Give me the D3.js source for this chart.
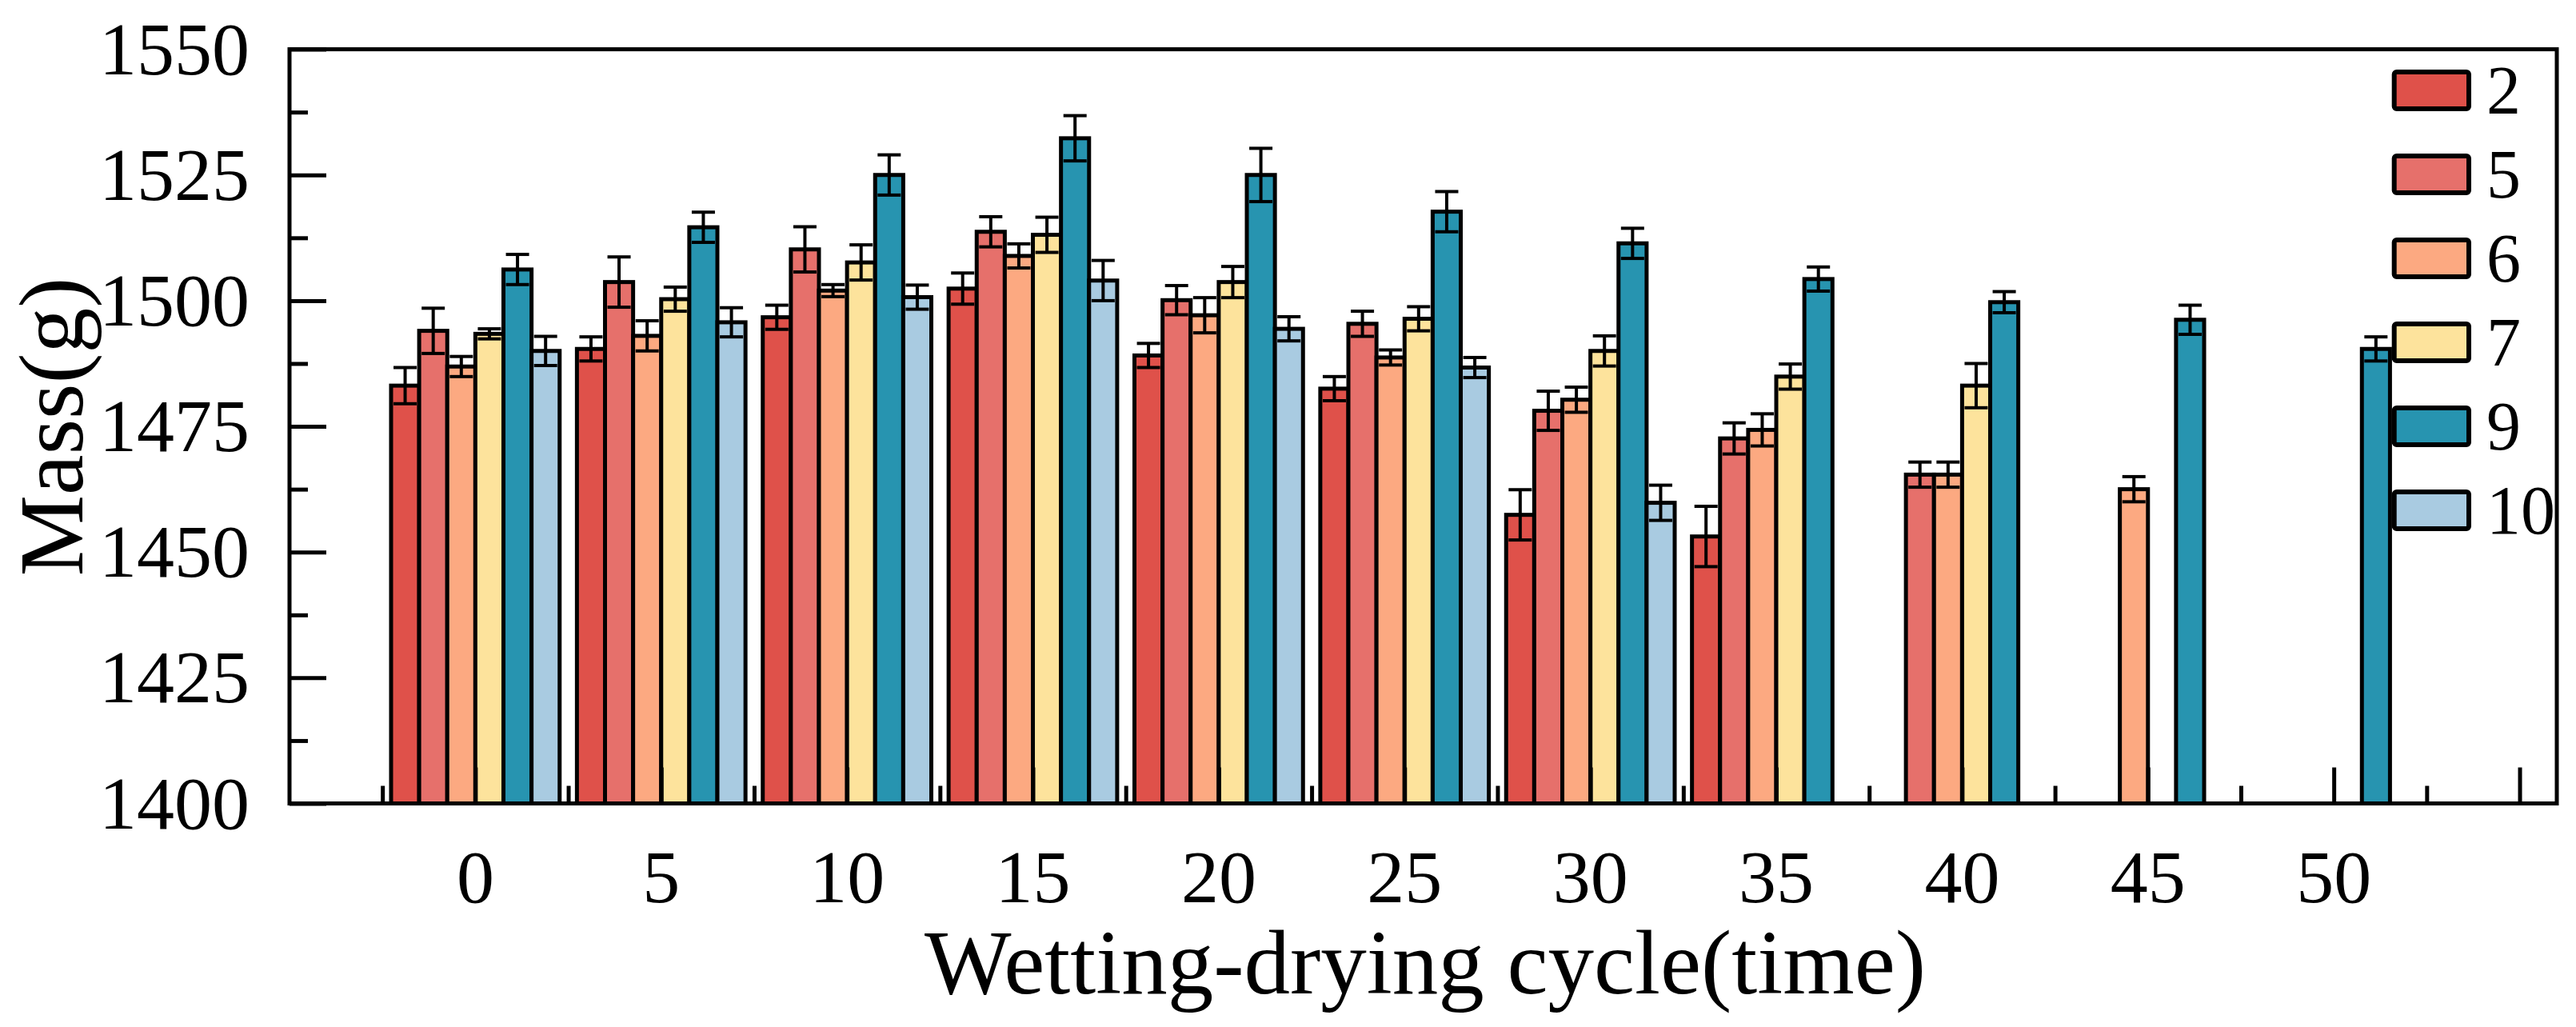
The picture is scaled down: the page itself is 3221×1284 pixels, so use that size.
<!DOCTYPE html>
<html>
<head>
<meta charset="utf-8">
<script src="https://cdn.jsdelivr.net/npm/d3@7"></script>
<style>
  html, body { margin: 0; padding: 0; background: #fff; }
  svg { display: block; }
  text { font-family: "Liberation Serif", "Times New Roman", serif; fill: #000; }
</style>
</head>
<body>
<svg id="chart" width="3221" height="1284"></svg>
<script>
// ---------------- data ----------------
const cycles = [0, 5, 10, 15, 20, 25, 30, 35, 40, 45, 50];
const seriesNames = ["2", "5", "6", "7", "9", "10"];
const seriesColors = ["#DF514A", "#E6706B", "#FCA981", "#FDE39C", "#2794B0", "#A9CBE1"];

const mass2  = [1483.1, 1490.4, 1496.7, 1502.4, 1489.1, 1482.5, 1457.4, 1453.1, null, null, null];
const err2   = [3.6, 2.4, 2.4, 3.1, 2.4, 2.4, 5.0, 6.0, null, null, null];
const mass5  = [1494.0, 1503.7, 1510.2, 1513.7, 1500.1, 1495.4, 1478.1, 1472.6, 1465.4, null, null];
const err5   = [4.5, 5.0, 4.5, 3.0, 2.9, 2.5, 3.9, 3.1, 2.5, null, null];
const mass6  = [1486.9, 1493.0, 1502.0, 1508.9, 1497.1, 1488.7, 1480.3, 1474.3, 1465.4, 1462.5, null];
const err6   = [2.0, 3.0, 1.2, 2.4, 3.5, 1.5, 2.5, 3.2, 2.5, 2.5, null];
const mass7  = [1493.4, 1500.3, 1507.6, 1513.1, 1503.7, 1496.4, 1490.0, 1484.9, 1483.1, null, null];
const err7   = [1.0, 2.4, 3.5, 3.5, 3.1, 2.4, 3.0, 2.5, 4.4, null, null];
const mass9  = [1506.2, 1514.6, 1525.0, 1532.3, 1525.0, 1517.7, 1511.4, 1504.3, 1499.7, 1496.2, 1490.4];
const err9   = [3.0, 3.0, 4.0, 4.5, 5.3, 4.0, 3.0, 2.4, 2.1, 2.9, 2.4];
const mass10 = [1490.0, 1495.7, 1500.7, 1504.0, 1494.4, 1486.7, 1459.8, null, null, null, null];
const err10  = [2.9, 2.9, 2.4, 4.0, 2.4, 2.0, 3.5, null, null, null, null];

const yTicks = [1400, 1425, 1450, 1475, 1500, 1525, 1550];
const xTicks = cycles;
const xTitle = "Wetting-drying cycle(time)";
const yTitle = "Mass(g)";

const massSeries = [mass2, mass5, mass6, mass7, mass9, mass10];
const errSeries  = [err2, err5, err6, err7, err9, err10];

// ---------------- layout ----------------
const L = 362, R = 3197, T = 61.6, B = 1004.5;
const svg = d3.select("#chart");

const x = d3.scaleLinear().domain([-5, 56]).range([L, R]);
const y = d3.scaleLinear().domain([1400, 1550]).range([B, T]);

const groupW = (x(5) - x(0)) * 0.907;
const inner = d3.scaleBand().domain(seriesNames).range([-groupW / 2, groupW / 2]).padding(0);

// records
const records = [];
seriesNames.forEach((s, j) => {
  cycles.forEach((c, i) => {
    const v = massSeries[j][i];
    if (v !== null) records.push({ s, j, c, v, e: errSeries[j][i] });
  });
});

const gBars = svg.append("g");
gBars.selectAll("rect").data(records).enter().append("rect")
  .attr("x", d => x(d.c) + inner(d.s))
  .attr("width", inner.bandwidth())
  .attr("y", d => y(d.v))
  .attr("height", d => y(1400) - y(d.v))
  .attr("fill", d => seriesColors[d.j])
  .attr("stroke", "#000")
  .attr("stroke-width", 5);

// error bars
const capW = 29;
const gErr = svg.append("g").attr("stroke", "#000").attr("stroke-width", 4);
records.forEach(d => {
  const cx = x(d.c) + inner(d.s) + inner.bandwidth() / 2;
  gErr.append("line").attr("x1", cx).attr("x2", cx).attr("y1", y(d.v + d.e)).attr("y2", y(d.v - d.e));
  gErr.append("line").attr("x1", cx - capW / 2).attr("x2", cx + capW / 2).attr("y1", y(d.v + d.e)).attr("y2", y(d.v + d.e));
  gErr.append("line").attr("x1", cx - capW / 2).attr("x2", cx + capW / 2).attr("y1", y(d.v - d.e)).attr("y2", y(d.v - d.e));
});

// ---------------- axes ----------------
const yAxis = d3.axisRight(y).tickValues(yTicks).tickSize(46).tickFormat("");
const gy = svg.append("g").attr("transform", `translate(${L},0)`).call(yAxis);
gy.select(".domain").remove();
gy.selectAll("line").attr("stroke", "#000").attr("stroke-width", 5);
const yMinor = d3.range(1412.5, 1550, 25);
const gyMinor = svg.append("g").attr("transform", `translate(${L},0)`)
  .call(d3.axisRight(y).tickValues(yMinor).tickSize(23).tickFormat(""));
gyMinor.select(".domain").remove();
gyMinor.selectAll("line").attr("stroke", "#000").attr("stroke-width", 5);

svg.append("g").selectAll("text").data(yTicks).enter().append("text")
  .attr("x", 312).attr("y", d => y(d) + 31)
  .attr("text-anchor", "end")
  .attr("font-size", 94)
  .text(d => d);

const xMajor = d3.range(0, 56, 5);
const gx = svg.append("g").attr("transform", `translate(0,${B})`)
  .call(d3.axisTop(x).tickValues(xMajor).tickSize(45).tickFormat(""));
gx.select(".domain").remove();
gx.selectAll("line").attr("stroke", "#000").attr("stroke-width", 5);
const xMinor = d3.range(-2.5, 56, 5);
const gxMinor = svg.append("g").attr("transform", `translate(0,${B})`)
  .call(d3.axisTop(x).tickValues(xMinor).tickSize(22).tickFormat(""));
gxMinor.select(".domain").remove();
gxMinor.selectAll("line").attr("stroke", "#000").attr("stroke-width", 5);

svg.append("g").selectAll("text").data(xTicks).enter().append("text")
  .attr("x", d => x(d)).attr("y", 1128)
  .attr("text-anchor", "middle")
  .attr("font-size", 94)
  .text(d => d);

// frame
svg.append("rect")
  .attr("x", L).attr("y", T).attr("width", R - L).attr("height", B - T)
  .attr("fill", "none").attr("stroke", "#000").attr("stroke-width", 5);

// titles
svg.append("text")
  .attr("x", 1782).attr("y", 1242)
  .attr("text-anchor", "middle")
  .attr("font-size", 115)
  .text(xTitle);

svg.append("text")
  .attr("transform", "translate(103,533.5) rotate(-90)")
  .attr("text-anchor", "middle")
  .attr("font-size", 114)
  .text(yTitle);

// ---------------- legend ----------------
const legendY = d3.scalePoint().domain(seriesNames).range([113, 638]);
const gLeg = svg.append("g");
seriesNames.forEach((s, j) => {
  const cy = legendY(s);
  gLeg.append("rect")
    .attr("x", 2993.7).attr("y", cy - 23).attr("width", 93.3).attr("height", 46)
    .attr("rx", 3)
    .attr("fill", seriesColors[j]).attr("stroke", "#000").attr("stroke-width", 6);
  gLeg.append("text")
    .attr("x", 3109).attr("y", cy + 29)
    .attr("font-size", 86)
    .text(s);
});
</script>
</body>
</html>
